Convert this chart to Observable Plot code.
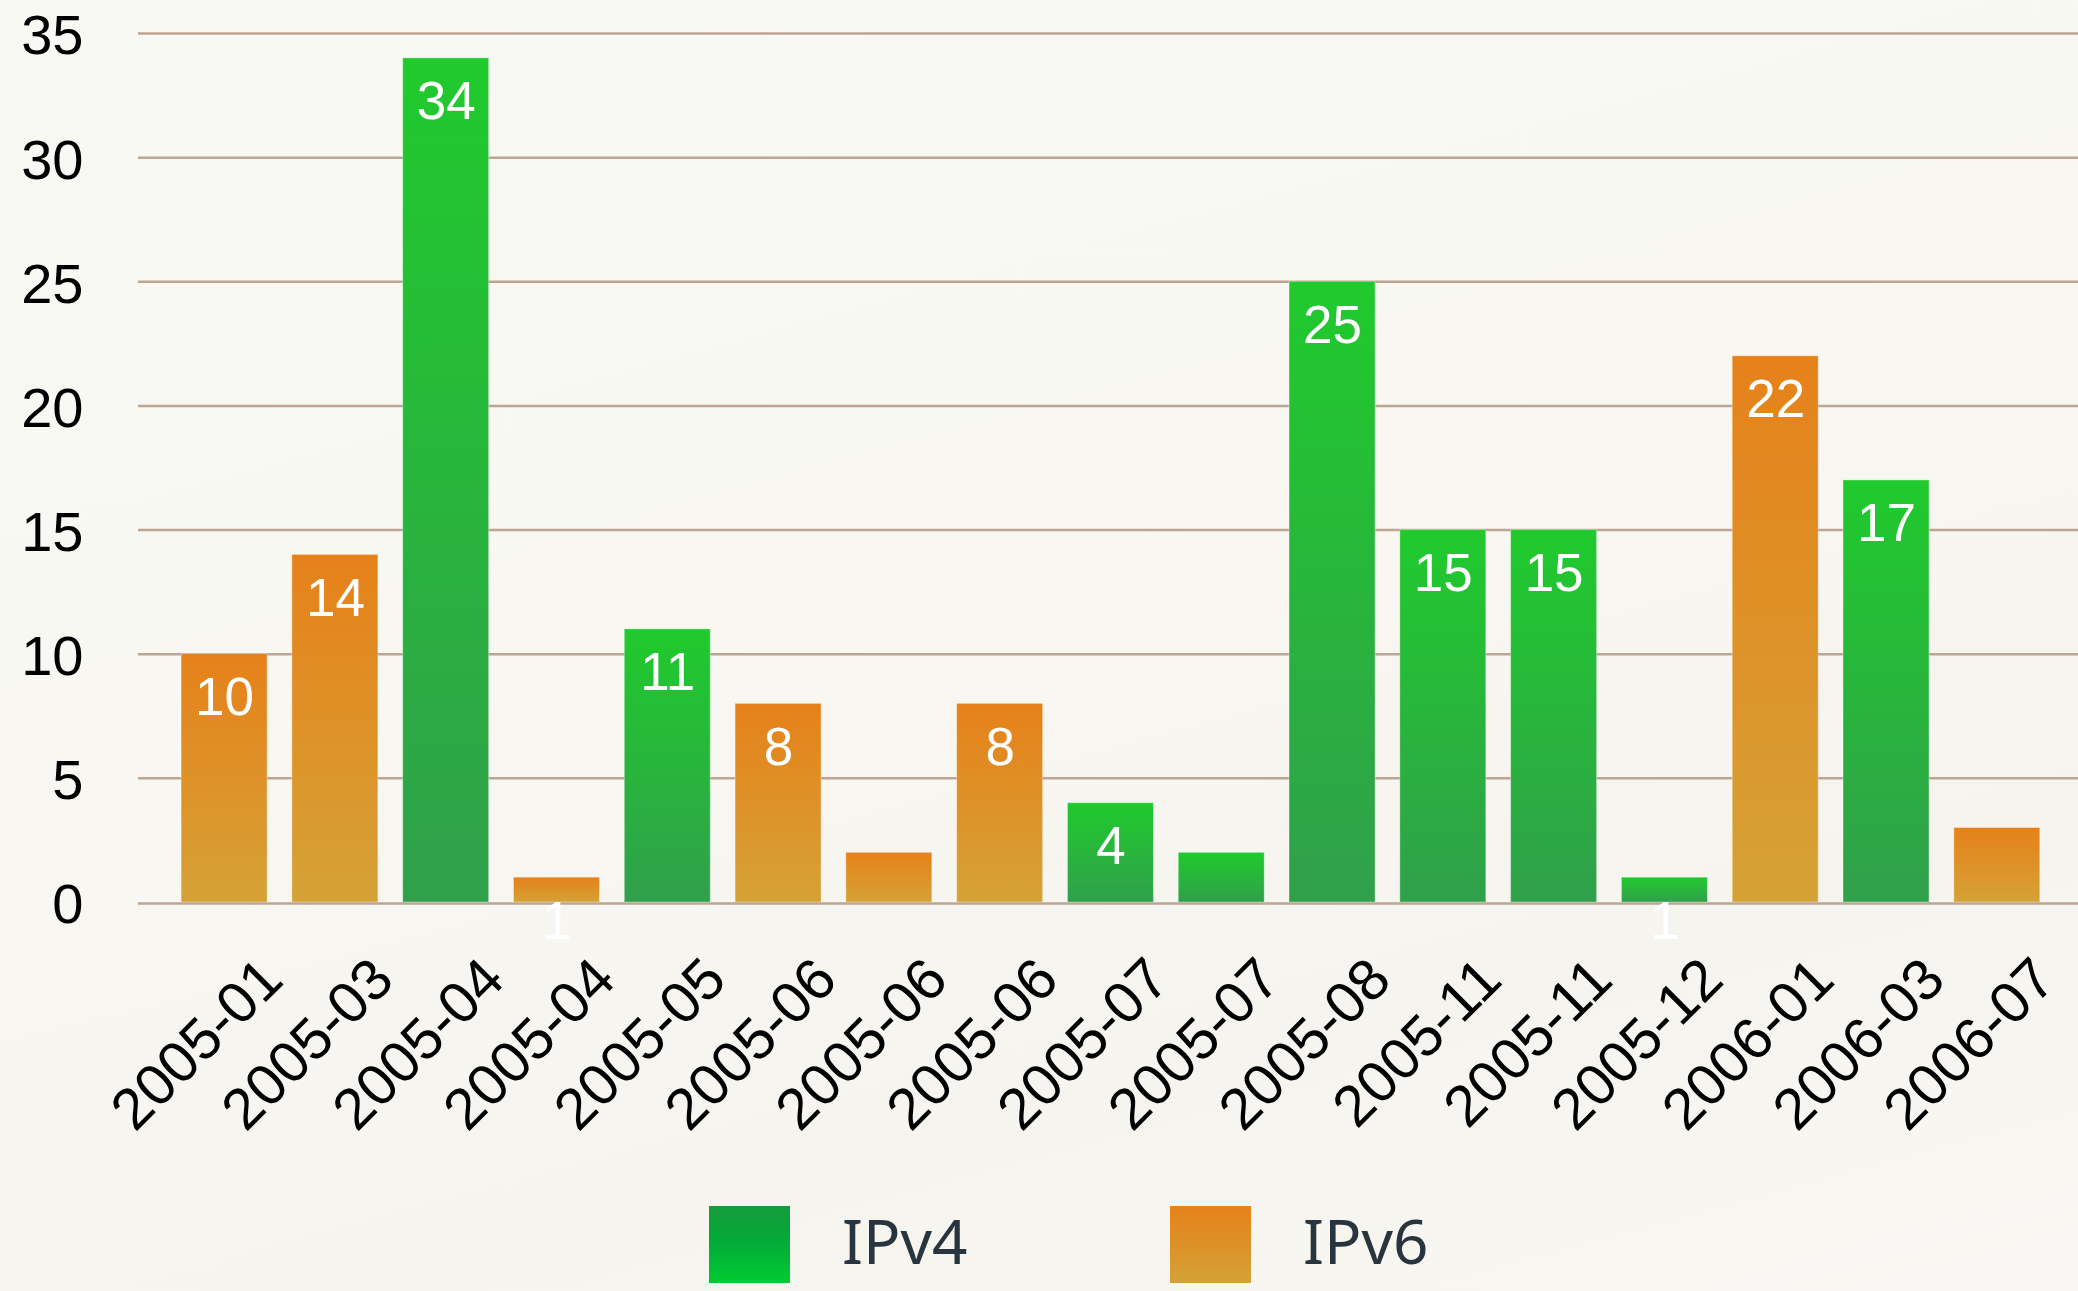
<!DOCTYPE html>
<html>
<head>
<meta charset="utf-8">
<script src="https://cdn.jsdelivr.net/npm/d3@7"></script>
<script src="https://cdn.jsdelivr.net/npm/@observablehq/plot@0.6"></script>
<style>
html, body { margin: 0; padding: 0; }
body {
  width: 2078px; height: 1291px; overflow: hidden;
  background: linear-gradient(165deg, #f9f9f4 0%, #f8f7f2 45%, #f6f4ee 75%, #f8f7f3 100%);
  font-family: "Liberation Sans", Arial, sans-serif;
}
#chart svg { display: block; }
#legend { position: relative; width: 2078px; height: 101px; }
.sw { position: absolute; top: 16px; width: 81px; height: 77px; }
.lt { position: absolute; top: 19px; font-family: "Noto Sans", sans-serif; font-size: 62px; line-height: 1; color: #29353e; white-space: nowrap; }
</style>
</head>
<body>
<div id="chart"></div>
<div id="legend">
  <div class="sw" style="left:709px;background:linear-gradient(180deg,#179b3d 0%,#03aa38 45%,#00cc31 100%);"></div>
  <div class="lt" style="left:842px;">IPv4</div>
  <div class="sw" style="left:1170px;background:linear-gradient(180deg,#e6821a 0%,#dc9128 50%,#d4a236 100%);"></div>
  <div class="lt" style="left:1303px;">IPv6</div>
</div>
<script>
// ---- data ----
const labels = ["2005-01","2005-03","2005-04","2005-04","2005-05","2005-06","2005-06","2005-06","2005-07","2005-07","2005-08","2005-11","2005-11","2005-12","2006-01","2006-03","2006-07"];
const values = [10, 14, 34, 1, 11, 8, 2, 8, 4, 2, 25, 15, 15, 1, 22, 17, 3];
const protocols = ["IPv6","IPv6","IPv4","IPv6","IPv4","IPv6","IPv6","IPv6","IPv4","IPv4","IPv4","IPv4","IPv4","IPv4","IPv6","IPv4","IPv6"];
const showValue = [true,true,true,true,true,true,false,true,true,false,true,true,true,true,true,true,false];
const yTicks = [0, 5, 10, 15, 20, 25, 30, 35];

const rows = labels.map((label, i) => ({i, label, value: values[i], protocol: protocols[i], show: showValue[i]}));
const idx = rows.map(d => d.i);

const svg = Plot.plot({
  width: 2078,
  height: 1190,
  marginTop: 33,
  marginBottom: 288,
  marginLeft: 138,
  marginRight: 0,
  style: {background: "transparent", fontFamily: "Liberation Sans, Arial, sans-serif", overflow: "visible"},
  x: {domain: idx, paddingInner: 0.224, paddingOuter: 0.367, align: 0.53, round: false, axis: null},
  y: {domain: [0, 35], ticks: yTicks, axis: null},
  marks: [
    Plot.ruleY(yTicks.filter(t => t > 0), {y: d => d, stroke: "#bba594", strokeWidth: 2.5}),
    Plot.text(yTicks, {y: d => d, text: d => String(d), frameAnchor: "left", textAnchor: "end", dx: -55, dy: 3, fontSize: 56, fill: "#000"}),
    Plot.barY(rows.filter(d => d.protocol === "IPv4"), {x: "i", y: "value", fill: "url(#gradIPv4)", stroke: "rgba(255,255,255,0.35)", strokeWidth: 1}),
    Plot.barY(rows.filter(d => d.protocol === "IPv6"), {x: "i", y: "value", fill: "url(#gradIPv6)", stroke: "rgba(255,255,255,0.35)", strokeWidth: 1}),
    Plot.ruleY([0], {y: d => d, stroke: "#bba594", strokeWidth: 2.5, dy: 1}),
    Plot.text(rows.filter(d => d.show), {x: "i", y: "value", text: d => String(d.value), fill: "#fff", fontSize: 53, lineAnchor: "middle", dy: 44}),
    Plot.text(rows, {x: "i", text: "label", frameAnchor: "bottom", rotate: -45, textAnchor: "end", lineAnchor: "bottom", dx: 61, dy: 80, fontSize: 58, fill: "#000"})
  ]
});

d3.select(svg).insert("defs", ":first-child").html(`
  <linearGradient id="gradIPv4" x1="0" y1="0" x2="0" y2="1">
    <stop offset="0" stop-color="#20ca2d"/>
    <stop offset="1" stop-color="#30a04b"/>
  </linearGradient>
  <linearGradient id="gradIPv6" x1="0" y1="0" x2="0" y2="1">
    <stop offset="0" stop-color="#e6811a"/>
    <stop offset="1" stop-color="#d5a236"/>
  </linearGradient>
`);

document.getElementById("chart").appendChild(svg);
</script>
</body>
</html>
